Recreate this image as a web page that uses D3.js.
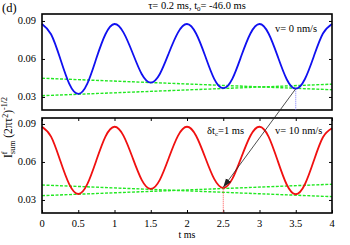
<!DOCTYPE html>
<html>
<head>
<meta charset="utf-8">
<script src="https://cdnjs.cloudflare.com/ajax/libs/d3/7.8.5/d3.min.js"></script>
<style>
  body { margin: 0; background: #fff; }
</style>
</head>
<body>
<div id="chart"></div>
<script>
// time samples (ms)
var tSamples = [0, 0.125, 0.25, 0.375, 0.5, 0.625, 0.75, 0.875,
  1, 1.125, 1.25, 1.375, 1.5, 1.625, 1.75, 1.875,
  2, 2.125, 2.25, 2.375, 2.5, 2.625, 2.75, 2.875,
  3, 3.125, 3.25, 3.375, 3.5, 3.625, 3.75, 3.875, 4];

// v = 0 nm/s (blue)
var sumV0 = [0.0876, 0.0795, 0.0605, 0.0405, 0.0324, 0.0405, 0.0605, 0.0795,
  0.0876, 0.0808, 0.0647, 0.0481, 0.0413, 0.0481, 0.0647, 0.0808,
  0.0876, 0.0801, 0.0625, 0.0443, 0.0369, 0.0443, 0.0625, 0.0801,
  0.0876, 0.0801, 0.0622, 0.0440, 0.0365, 0.0440, 0.0622, 0.0801, 0.0876];

// v = 10 nm/s (red)
var sumV10 = [0.0878, 0.0800, 0.0613, 0.0425, 0.0347, 0.0425, 0.0613, 0.0800,
  0.0878, 0.0806, 0.0633, 0.0459, 0.0387, 0.0459, 0.0633, 0.0806,
  0.0878, 0.0807, 0.0637, 0.0466, 0.0395, 0.0466, 0.0637, 0.0807,
  0.0878, 0.0800, 0.0611, 0.0422, 0.0345, 0.0422, 0.0611, 0.0795, 0.0866];

// green dashed envelope lines, [value at t=0, value at t=4]
var envTopA = [0.0448, 0.0357], envTopB = [0.0310, 0.0401];
var envBotA = [0.0418, 0.0326], envBotB = [0.0334, 0.0424];
var envT = [0, 4];

var xTicks = [0, 0.5, 1, 1.5, 2, 2.5, 3, 3.5, 4];
var xTickLabels = ["0", "0.5", "1", "1.5", "2", "2.5", "3", "3.5", "4"];
var yTicks = [0.03, 0.06, 0.09];
var yTickLabels = ["0.03", "0.06", "0.09"];

// marked minima
var markTop = {t: 3.5, v: 0.0365};
var markBot = {t: 2.5, v: 0.0400};

var width = 350, height = 245;
var serif = "'Liberation Serif', 'Times New Roman', Times, 'DejaVu Serif', serif";
var svg = d3.select("#chart").append("svg")
  .attr("width", width).attr("height", height)
  .attr("font-family", serif);

var x = d3.scaleLinear().domain([0, 4]).range([42, 332]);
var yTop = d3.scaleLinear().domain([0.0197, 0.0955]).range([110, 14]);
var yBot = d3.scaleLinear().domain([0.0197, 0.0947]).range([213, 118]);

var green = "#22e822";

function panel(y, vals, color, envA, envB, showX) {
  var g = svg.append("g");

  // envelopes
  [envA, envB].forEach(function(e) {
    g.append("path")
      .datum(envT.map(function(t, i) { return [t, e[i]]; }))
      .attr("fill", "none")
      .attr("stroke", green)
      .attr("stroke-width", 1.4)
      .attr("stroke-dasharray", "3,1.5")
      .attr("d", d3.line().x(function(d) { return x(d[0]); }).y(function(d) { return y(d[1]); }));
  });

  // curve
  g.append("path")
    .datum(tSamples.map(function(t, i) { return [t, vals[i]]; }))
    .attr("fill", "none")
    .attr("stroke", color)
    .attr("stroke-width", 1.8)
    .attr("d", d3.line().curve(d3.curveNatural)
      .x(function(d) { return x(d[0]); }).y(function(d) { return y(d[1]); }));

  // axes, ticks inward
  var r = y.range();
  g.append("g").attr("transform", "translate(" + x.range()[0] + ",0)")
    .call(d3.axisRight(y).tickValues(yTicks).tickSize(3).tickFormat(""));
  g.append("g").attr("transform", "translate(" + x.range()[1] + ",0)")
    .call(d3.axisLeft(y).tickValues(yTicks).tickSize(3).tickFormat(""));
  yTicks.forEach(function(v, i) {
    g.append("text").attr("x", 36).attr("y", y(v) + 3.5)
      .attr("text-anchor", "end").attr("font-size", 10.5).text(yTickLabels[i]);
  });
  if (showX) {
    g.append("g").attr("transform", "translate(0," + r[0] + ")")
      .call(d3.axisTop(x).tickValues(xTicks).tickSize(3).tickFormat(""));
    g.append("g").attr("transform", "translate(0," + r[1] + ")")
      .call(d3.axisBottom(x).tickValues(xTicks).tickSize(3).tickFormat(""));
  }
  g.selectAll(".domain").remove();
  g.selectAll(".tick line").attr("stroke", "#000").attr("stroke-width", 1);

  // frame
  g.append("rect")
    .attr("x", x.range()[0]).attr("y", r[1])
    .attr("width", x.range()[1] - x.range()[0]).attr("height", r[0] - r[1])
    .attr("fill", "none").attr("stroke", "#000").attr("stroke-width", 1.6);
  return g;
}

var gTop = panel(yTop, sumV0, "#1010f0", envTopA, envTopB, false);
var gBot = panel(yBot, sumV10, "#f01010", envBotA, envBotB, true);

// dotted drop lines at marked minima
svg.append("line")
  .attr("x1", x(markTop.t)).attr("x2", x(markTop.t))
  .attr("y1", yTop(markTop.v)).attr("y2", yTop.range()[0])
  .attr("stroke", "#7a7aff").attr("stroke-width", 1).attr("stroke-dasharray", "1,1");
svg.append("line")
  .attr("x1", x(markBot.t)).attr("x2", x(markBot.t))
  .attr("y1", yBot(markBot.v)).attr("y2", yBot.range()[0])
  .attr("stroke", "#ff5050").attr("stroke-width", 1).attr("stroke-dasharray", "1,1");

// arrow between minima
svg.append("defs").append("marker")
  .attr("id", "head").attr("viewBox", "0 0 10 10")
  .attr("refX", 10).attr("refY", 5)
  .attr("markerWidth", 9).attr("markerHeight", 9)
  .attr("markerUnits", "userSpaceOnUse")
  .attr("orient", "auto")
  .append("path").attr("d", "M0,1.5 L10,5 L0,8.5 Z").attr("fill", "#222");
svg.append("line")
  .attr("x1", x(markTop.t)).attr("y1", yTop(markTop.v))
  .attr("x2", x(markBot.t)).attr("y2", yBot(markBot.v))
  .attr("stroke", "#222").attr("stroke-width", 0.8)
  .attr("marker-end", "url(#head)");

// x tick labels
xTicks.forEach(function(t, i) {
  svg.append("text").attr("x", x(t)).attr("y", 226.5)
    .attr("text-anchor", "middle").attr("font-size", 10.5).text(xTickLabels[i]);
});
svg.append("text").attr("x", x(2)).attr("y", 237.5)
  .attr("text-anchor", "middle").attr("font-size", 10).text("t ms");

// panel label and title
svg.append("text").attr("x", 2).attr("y", 12).attr("font-size", 12.5).text("(d)");
var title = svg.append("text").attr("x", 197).attr("y", 9)
  .attr("text-anchor", "middle").attr("font-size", 10.5);
title.append("tspan").text("τ= 0.2 ms, t");
title.append("tspan").attr("font-size", 7).attr("dy", 2).text("0");
title.append("tspan").attr("dy", -2).text("= -46.0 ms");

svg.append("text").attr("x", 275).attr("y", 31.5).attr("font-size", 10.5).text("v= 0 nm/s");
svg.append("text").attr("x", 275).attr("y", 133.5).attr("font-size", 10.5).text("v= 10 nm/s");
var dt = svg.append("text").attr("x", 207).attr("y", 134).attr("font-size", 10.5);
dt.append("tspan").text("δt");
dt.append("tspan").attr("font-size", 7).attr("dy", 2).text("c");
dt.append("tspan").attr("dy", -2).text("=1 ms");

// y label
var yl = svg.append("text")
  .attr("transform", "translate(12,158) rotate(-90)")
  .attr("font-size", 11.5);
yl.append("tspan").text("I");
yl.append("tspan").attr("font-size", 8).attr("dy", -5).text("f");
yl.append("tspan").attr("font-size", 8).attr("dx", -2.5).attr("dy", 8).text("sum");
yl.append("tspan").attr("dy", -3).text(" (2πτ");
yl.append("tspan").attr("font-size", 8).attr("dy", -4).text("2");
yl.append("tspan").attr("dy", 4).text(")");
yl.append("tspan").attr("font-size", 8).attr("dy", -5).text("-1/2");
</script>
</body>
</html>
